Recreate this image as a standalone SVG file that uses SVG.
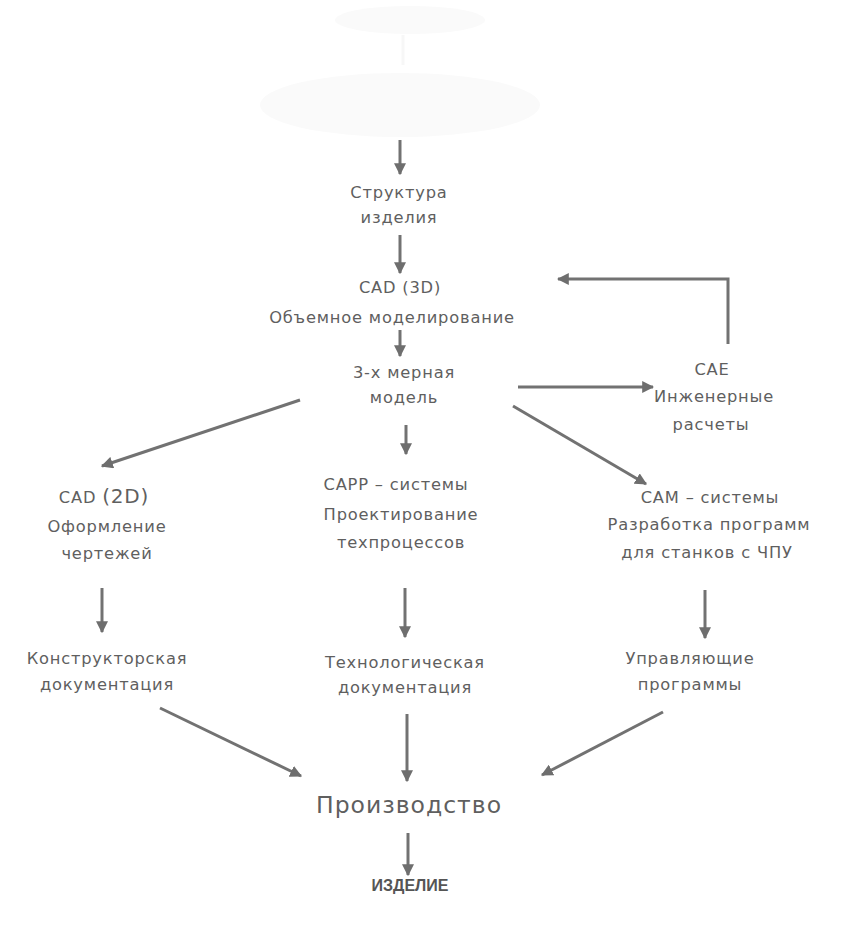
<svg xmlns="http://www.w3.org/2000/svg" width="859" height="930" viewBox="0 0 859 930">
<defs>
<marker id="ah" viewBox="0 0 10 10" refX="9" refY="5" markerWidth="4" markerHeight="4" orient="auto" markerUnits="strokeWidth">
<path d="M0,0 L10,5 L0,10 z" fill="#6e6e6e"/>
</marker>
</defs>
<style>
.t{font-family:"DejaVu Sans","Liberation Sans",sans-serif;font-size:16.3px;fill:#5f5f5f;text-anchor:middle;letter-spacing:0.8px}
.big{font-size:23.5px;letter-spacing:1px}
.b{font-family:"Liberation Sans","DejaVu Sans",sans-serif;font-size:16px;font-weight:bold;fill:#555;text-anchor:middle}
.c{stroke:#727272;stroke-width:3;fill:none;marker-end:url(#ah)}
.ghost{fill:#fafafa}
</style>
<rect width="859" height="930" fill="#ffffff"/>
<g id="faded-top">
<ellipse class="ghost" cx="410" cy="20" rx="75" ry="14"/>
<line x1="403" y1="35" x2="403" y2="65" stroke="#f7f7f7" stroke-width="3"/>
<ellipse class="ghost" cx="400" cy="105" rx="140" ry="32"/>
</g>
<g id="connectors">
<line class="c" x1="400" y1="140" x2="400" y2="174"/>
<line class="c" x1="400" y1="235" x2="400" y2="273"/>
<line class="c" x1="400" y1="330" x2="400" y2="356"/>
<line class="c" x1="300" y1="400" x2="102" y2="466"/>
<line class="c" x1="406" y1="425" x2="406" y2="454"/>
<line class="c" x1="518" y1="387" x2="653" y2="387"/>
<line class="c" x1="513" y1="406" x2="646" y2="484"/>
<polyline class="c" points="728,344 728,279 558,279"/>
<line class="c" x1="102" y1="588" x2="102" y2="632"/>
<line class="c" x1="405" y1="588" x2="405" y2="637"/>
<line class="c" x1="705" y1="590" x2="705" y2="638"/>
<line class="c" x1="160" y1="708" x2="301" y2="776"/>
<line class="c" x1="407" y1="714" x2="407" y2="781"/>
<line class="c" x1="663" y1="712" x2="542" y2="775"/>
<line class="c" x1="408" y1="833" x2="408" y2="875"/>
</g>
<g id="n-struktura">
<text class="t" x="399" y="198">Структура</text>
<text class="t" x="399" y="223">изделия</text>
</g>
<g id="n-cad3d">
<text class="t" x="400" y="293">CAD (3D)</text>
<text class="t" x="392" y="323">Объемное моделирование</text>
</g>
<g id="n-model">
<text class="t" x="404" y="378">3-х мерная</text>
<text class="t" x="404" y="403">модель</text>
</g>
<g id="n-cae">
<text class="t" x="712" y="375">CAE</text>
<text class="t" x="714" y="402">Инженерные</text>
<text class="t" x="711" y="430">расчеты</text>
</g>
<g id="n-cad2d">
<text class="t" x="104" y="503">CAD <tspan font-size="20">(2D)</tspan></text>
<text class="t" x="107" y="532">Оформление</text>
<text class="t" x="107" y="559">чертежей</text>
</g>
<g id="n-capp">
<text class="t" x="396" y="490">CAPP – системы</text>
<text class="t" x="401" y="520">Проектирование</text>
<text class="t" x="401" y="548">техпроцессов</text>
</g>
<g id="n-cam">
<text class="t" x="710" y="503">CAM – системы</text>
<text class="t" x="709" y="530">Разработка программ</text>
<text class="t" x="707" y="558">для станков с ЧПУ</text>
</g>
<g id="n-kd">
<text class="t" x="107" y="664">Конструкторская</text>
<text class="t" x="107" y="690">документация</text>
</g>
<g id="n-td">
<text class="t" x="405" y="668">Технологическая</text>
<text class="t" x="405" y="693">документация</text>
</g>
<g id="n-up">
<text class="t" x="690" y="664">Управляющие</text>
<text class="t" x="690" y="690">программы</text>
</g>
<g id="n-proizv">
<text class="t big" x="409" y="813">Производство</text>
</g>
<g id="n-izdelie">
<text class="b" x="410" y="891">ИЗДЕЛИЕ</text>
</g>
</svg>
